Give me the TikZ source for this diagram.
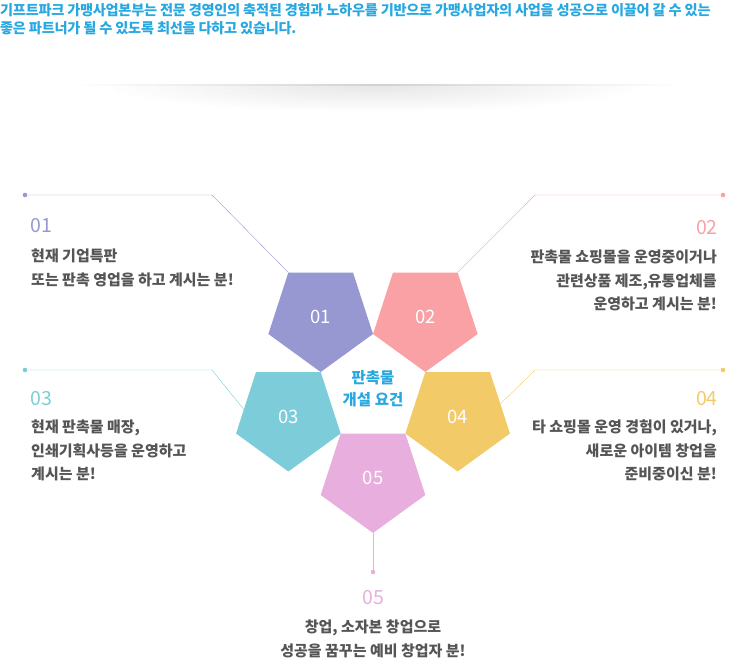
\documentclass[tikz,border=0pt]{standalone}
\usepackage{fontspec}
\setmainfont{Noto Sans CJK KR}
\usetikzlibrary{calc,shapes.geometric}
\definecolor{cBlue}{RGB}{40,168,224}
\definecolor{cPurple}{RGB}{151,151,210}
\definecolor{cPink}{RGB}{249,161,165}
\definecolor{cCyan}{RGB}{124,204,218}
\definecolor{cYellow}{RGB}{242,202,104}
\definecolor{cViolet}{RGB}{232,174,222}
\definecolor{cText}{RGB}{85,85,85}

\begin{document}
\begin{tikzpicture}[x=1pt,y=-1pt,
  penta/.style={regular polygon,regular polygon sides=5,shape border rotate=180,minimum size=110pt,inner sep=0pt,outer sep=0pt,text=white,font=\fontsize{18.5}{18.5}\selectfont},
  num/.style={inner sep=0pt,font=\fontsize{19.5}{19.5}\selectfont},
  desc/.style={inner sep=0pt,text=cText,font=\bfseries\fontsize{15}{23.2}\selectfont},
  dot/.style={circle,inner sep=0pt,minimum size=4.6pt}]
\useasboundingbox (0,0) rectangle (750,670);
\node[anchor=north west,inner sep=0pt,align=left,text=cBlue,font=\bfseries\fontsize{14.2}{18}\selectfont\addfontfeatures{LetterSpace=-2}] (intro) at (0,3.5) {기프트파크 가맹사업본부는 전문 경영인의 축적된 경험과 노하우를 기반으로 가맹사업자의 사업을 성공으로 이끌어 갈 수 있는\\좋은 파트너가 될 수 있도록 최선을 다하고 있습니다.};
\begin{scope}
\clip (60,85) rectangle (690,125);
\foreach \i in {1,...,12}
  \fill[black,opacity=0.009] (375,85) ellipse ({22*\i} and {2.2*\i});
\end{scope}
\shade[left color=white,right color=white,middle color=black!18] (72,84.6) rectangle (684,85.4);

\node[text=cBlue,align=center,inner sep=0pt,font=\bfseries\fontsize{15.5}{22}\selectfont] (c) at (373,389) {판촉물\\개설 요건};
\node[penta,fill=cPurple] (p1) at ($(c)+(234:89)$) {01};
\node[penta,fill=cPink] (p2) at ($(c)+(306:89)$) {02};
\node[penta,fill=cCyan] (p3) at ($(c)+(162:89)$) {03};
\node[penta,fill=cYellow] (p4) at ($(c)+(18:89)$) {04};
\node[penta,fill=cViolet] (p5) at ($(c)+(90:89)$) {05};

\node[dot,fill=cPurple] (d1) at (25,195) {}; \coordinate (k1) at (212,195);
\node[dot,fill=cPink] (d2) at (723,195) {}; \coordinate (k2) at (535,195);
\node[dot,fill=cCyan] (d3) at (25,370) {}; \coordinate (k3) at (212,370);
\node[dot,fill=cYellow] (d4) at (723,370) {}; \coordinate (k4) at (535,370);
\node[dot,fill=cViolet] (d5) at (373,572) {};
\draw[cPurple] (d1) -- (k1) -- (p1.corner 4);
\draw[cPink] (d2) -- (k2) -- (p2.corner 3);
\draw[cCyan] (d3) -- (k3) -- ($(p3.corner 4)!0.61!(p3.corner 5)$);
\draw[cYellow] (d4) -- (k4) -- ($(p4.corner 3)!0.52!(p4.corner 2)$);
\draw[cViolet] (p5.corner 1) -- (d5);

\node[num,text=cPurple,anchor=west] (n1) at (30,226) {01};
\node[desc,anchor=north west,align=left] (t1) at (31,249) {현재 기업특판\\또는 판촉 영업을 하고 계시는 분!};
\node[num,text=cPink,anchor=east] (n2) at (718,228) {02};
\node[desc,anchor=north east,align=right] (t2) at (717,250) {판촉물 쇼핑몰을 운영중이거나\\관련상품 제조,유통업체를\\운영하고 계시는 분!};
\node[num,text=cCyan,anchor=west] (n3) at (30,399) {03};
\node[desc,anchor=north west,align=left] (t3) at (31,420) {현재 판촉물 매장,\\인쇄기획사등을 운영하고\\계시는 분!};
\node[num,text=cYellow,anchor=east] (n4) at (718,399) {04};
\node[desc,anchor=north east,align=right] (t4) at (717,420) {타 쇼핑몰 운영 경험이 있거나,\\새로운 아이템 창업을\\준비중이신 분!};
\node[num,text=cViolet] (n5) at (373,598) {05};
\node[desc,anchor=north,align=center] (t5) at (373,620) {창업, 소자본 창업으로\\성공을 꿈꾸는 예비 창업자 분!};
\end{tikzpicture}
\end{document}
